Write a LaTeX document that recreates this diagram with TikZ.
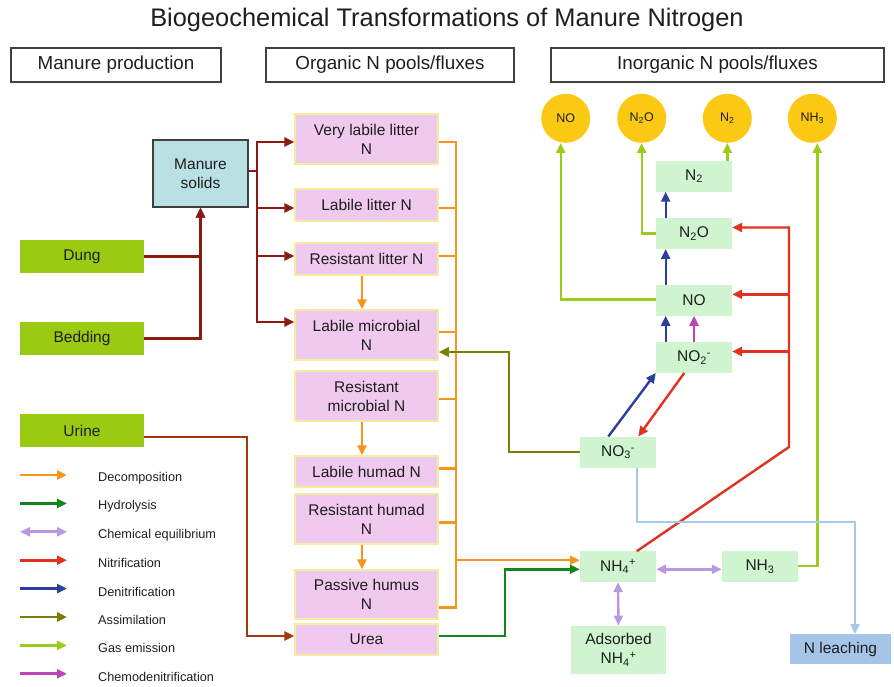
\documentclass[tikz,border=0pt]{standalone}
\usepackage{fontspec}
\setmainfont{Liberation Sans}
\usepackage{tikz}
\usetikzlibrary{positioning,calc,arrows.meta}
\definecolor{decompC}{HTML}{F7941D}
\definecolor{hydroC}{HTML}{11861A}
\definecolor{equilC}{HTML}{B898E0}
\definecolor{nitrC}{HTML}{E0321F}
\definecolor{denitrC}{HTML}{2B3F9E}
\definecolor{assimC}{HTML}{7D7D06}
\definecolor{gasC}{HTML}{9ACD1A}
\definecolor{chemoC}{HTML}{C044B4}
\definecolor{manureC}{HTML}{8B1A12}
\definecolor{urineC}{HTML}{A3360C}
\definecolor{leachC}{HTML}{A6C8EA}
\definecolor{poolC}{HTML}{EFCAEE}
\definecolor{poolEdge}{HTML}{F3EC9F}
\definecolor{srcC}{HTML}{9ACB12}
\definecolor{solidC}{HTML}{B9E0E3}
\definecolor{inorgC}{HTML}{CFF4CF}
\definecolor{gasballC}{HTML}{FBC913}
\definecolor{leachbox}{HTML}{A4C4E8}
\definecolor{txtC}{HTML}{1E1E1E}
\tikzset{>={Triangle[length=10pt,width=9pt]}}
\tikzset{title/.style={font=\fontsize{25.4}{29}\selectfont,text=txtC}}
\tikzset{hdr/.style={draw=black!75,line width=1.3pt,minimum height=34pt,font=\fontsize{18.8}{22}\selectfont,text=txtC}}
\tikzset{box/.style={inner sep=0pt,align=center,font=\fontsize{15.5}{19}\selectfont,text=txtC}}
\tikzset{pool/.style={box,fill=poolC,draw=poolEdge,line width=1.5pt,minimum width=143pt,minimum height=#1}}
\tikzset{src/.style={box,fill=srcC,minimum width=124pt,minimum height=33pt}}
\tikzset{solids/.style={box,fill=solidC,draw=black!75,line width=1.5pt,minimum width=95pt,minimum height=67pt}}
\tikzset{inorg/.style={box,fill=inorgC,minimum width=76pt,minimum height=30.5pt}}
\tikzset{gasball/.style={circle,fill=gasballC,minimum size=49pt,inner sep=0pt,font=\fontsize{12.5}{14}\selectfont,text=txtC}}
\tikzset{legtext/.style={anchor=west,inner sep=0pt,font=\fontsize{12.7}{15}\selectfont,text=txtC}}
\tikzset{manure/.style={->,draw=manureC,line width=2.4pt}}
\tikzset{urineline/.style={->,draw=urineC,line width=2.4pt}}
\tikzset{decompline/.style={draw=decompC,line width=2.4pt}}
\tikzset{decomp/.style={->,draw=decompC,line width=2.4pt}}
\tikzset{hydro/.style={->,draw=hydroC,line width=2.4pt}}
\tikzset{equil/.style={<->,draw=equilC,line width=2.4pt}}
\tikzset{nitr/.style={->,draw=nitrC,line width=2.4pt}}
\tikzset{denitr/.style={->,draw=denitrC,line width=2.4pt}}
\tikzset{assim/.style={->,draw=assimC,line width=2.4pt}}
\tikzset{gas/.style={->,draw=gasC,line width=2.4pt}}
\tikzset{chemo/.style={->,draw=chemoC,line width=2.4pt}}
\tikzset{leach/.style={->,draw=leachC,line width=2pt}}

\begin{document}
\begin{tikzpicture}[x=1pt,y=-1pt]
\useasboundingbox (0,0) rectangle (894,687);
\node[title] (ttl) at (447,20) {Biogeochemical Transformations of Manure Nitrogen};
\node[hdr,minimum width=210pt] (hman) at (116,65) {Manure production};
\node[hdr,minimum width=248pt] (horg) at (390,65) {Organic N pools/fluxes};
\node[hdr,minimum width=333pt] (hinorg) at (717.5,65) {Inorganic N pools/fluxes};

% manure production
\node[src] (dung) at (82,256.5) {Dung};
\node[src] (bed) at (82,338.5) {Bedding};
\node[src] (urine) at (82,430.5) {Urine};
\node[solids] (msol) at (200.5,173.5) {Manure\\solids};

% organic N pools
\node[pool=50pt] (vlit) at (366.5,139) {Very labile litter\\N};
\node[pool=32pt] (llit) at (366.5,205) {Labile litter N};
\node[pool=32pt] (rlit) at (366.5,259) {Resistant litter N};
\node[pool=50pt] (lmic) at (366.5,335) {Labile microbial\\N};
\node[pool=50pt] (rmic) at (366.5,396) {Resistant\\microbial N};
\node[pool=31pt] (lhum) at (366.5,471.5) {Labile humad N};
\node[pool=50pt] (rhum) at (366.5,519) {Resistant humad\\N};
\node[pool=49pt] (phum) at (366.5,594.5) {Passive humus\\N};
\node[pool=31pt] (urea) at (366.5,639.5) {Urea};

% inorganic N pools
\node[gasball] (gno) at (565.7,118.3) {NO};
\node[gasball] (gn2o) at (641.7,118.3) {N\textsubscript{2}O};
\node[gasball] (gn2) at (727.3,118.3) {N\textsubscript{2}};
\node[gasball] (gnh3) at (812.3,118.3) {NH\textsubscript{3}};
\node[inorg] (n2b) at (694,176.3) {N\textsubscript{2}};
\node[inorg] (n2ob) at (694,233.5) {N\textsubscript{2}O};
\node[inorg] (nob) at (694,300.3) {NO};
\node[inorg] (no2b) at (694,357.5) {NO\textsubscript{2}\textsuperscript{-}};
\node[inorg,minimum height=31pt] (no3b) at (618,452.2) {NO\textsubscript{3}\textsuperscript{-}};
\node[inorg] (nh4b) at (618,566.7) {NH\textsubscript{4}\textsuperscript{+}};
\node[inorg] (nh3b) at (760,566.7) {NH\textsubscript{3}};
\node[inorg,minimum width=95pt,minimum height=48.5pt] (adsb) at (618.5,650) {Adsorbed\\NH\textsubscript{4}\textsuperscript{+}};
\node[box,fill=leachbox,minimum width=101pt,minimum height=30pt] (leachb) at (840.5,649.3) {N leaching};

% manure flows
\draw[manure] (dung.east) -| (msol.south);
\draw[manure] (bed.east) -| (msol.south);
\coordinate (msplit) at (257,171);
\draw[manure] ([yshift=2.5pt]msol.east) -- (msplit) |- ([yshift=-3pt]vlit.west);
\draw[manure] (msplit) |- ([yshift=-3pt]llit.west);
\draw[manure] (msplit) |- ([yshift=3pt]rlit.west);
\draw[manure] (msplit) |- ([yshift=13pt]lmic.west);
\coordinate (ureain) at ([yshift=3.5pt]urea.west);
\draw[urineline] ([yshift=-6.5pt]urine.east) -| ($(ureain)+(-47,0)$) -- (ureain);

% decomposition
\coordinate (obus) at (456,142);
\draw[decompline] (obus) -- (456,607.3);
\foreach \b/\s in {vlit/-3,llit/-3,rlit/3,lmic/3,rmic/-3,lhum/3.2,rhum/-3.3,phum/-12.8}
	\draw[decompline] ([yshift=\s pt]\b.east) -- +(18,0);
\draw[decomp] ([xshift=-4.5pt]rlit.south) -- ([xshift=-4.5pt]lmic.north);
\draw[decomp] ([xshift=-4.5pt]rmic.south) -- ([xshift=-4.5pt]lhum.north);
\draw[decomp] ([xshift=-4.5pt]rhum.south) -- ([xshift=-4.5pt]phum.north);
\coordinate (nh4dec) at ([yshift=6.5pt]nh4b.west);
\draw[decomp] (nh4dec -| obus) -- (nh4dec);
\draw[hydro] ([yshift=3.5pt]urea.east) -- ++(66,0) |- ([yshift=-2.6pt]nh4b.west);

% inorganic flows
\draw[denitr] ([xshift=-28.3pt]no2b.north) -- ([xshift=-28.3pt]nob.south);
\draw[denitr] ([xshift=-28.3pt]nob.north) -- ([xshift=-28.3pt]n2ob.south);
\draw[denitr] ([xshift=-28.3pt]n2ob.north) -- ([xshift=-28.3pt]n2b.north |- n2b.south);
\draw[chemo] (no2b.north) -- (nob.south);
\draw[denitr] ([xshift=-9.7pt]no3b.north) -- (no2b.south west);
\draw[nitr] ([xshift=-9.7pt]no2b.south) -- ([xshift=20.3pt]no3b.north);
\coordinate (rbend) at (789,447);
\coordinate (n2oin) at ([yshift=6pt]n2ob.east);
\coordinate (noin) at ([yshift=6pt]nob.east);
\coordinate (no2in) at ([yshift=6pt]no2b.east);
\draw[nitr] ([xshift=18.7pt]nh4b.north) -- (rbend) |- (n2oin);
\draw[nitr] (noin -| rbend) -- (noin);
\draw[nitr] (no2in -| rbend) -- (no2in);
\draw[assim] (no3b.west) -- ++(-71,0) |- ([yshift=-17pt]lmic.east);
\draw[gas] (n2b.north -| gn2.south) -- (gn2.south);
\draw[gas] ([yshift=0.2pt]n2ob.west) -| (gn2o.south);
\draw[gas] ([yshift=1pt]nob.west) -| ([xshift=-5pt]gno.south);
\draw[gas] ([yshift=1pt]nh3b.east) -| ([xshift=5pt]gnh3.south);
\draw[equil] ([yshift=-2.6pt]nh4b.east) -- ([yshift=-2.6pt]nh3b.west);
\draw[equil] (nh4b.south) -- (adsb.north);
\coordinate (lturn) at (855,522.3);
\draw[leach] ([xshift=19.3pt]no3b.south) |- (lturn) -- (lturn |- leachb.north);

% legend
\foreach \lab/\sty [count=\i] in {Decomposition/decomp,Hydrolysis/hydro,Chemical equilibrium/equil,Nitrification/nitr,Denitrification/denitr,Assimilation/assim,Gas emission/gas,Chemodenitrification/chemo}
{
	\draw[\sty,line width=2.8pt] (20,446.6+28.4*\i) -- ++(47,0);
	\node[legtext] (leg\i) at (98,449.6+28.4*\i) {\lab};
}
\end{tikzpicture}
\end{document}
